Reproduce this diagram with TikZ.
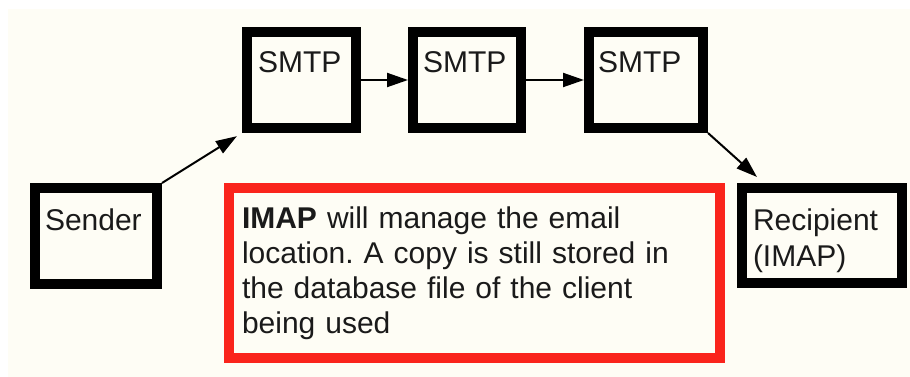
\documentclass[tikz,border=0pt]{standalone}
\usepackage{fontspec}
\setmainfont{Liberation Sans}
\usetikzlibrary{arrows.meta,calc}
\definecolor{cream}{RGB}{254,253,245}
\definecolor{boxred}{RGB}{250,36,28}
\definecolor{ink}{RGB}{26,26,26}
\frenchspacing
\begin{document}
\begin{tikzpicture}[x=1pt,y=-1pt,
  blackbox/.style={draw=black, line width=10pt, fill=cream, anchor=north west,
    inner ysep=0pt, align=left, text=ink,
    font=\fontsize{30}{36}\selectfont},
  redbox/.style={draw=boxred, line width=10pt, fill=cream, anchor=north west,
    inner ysep=0pt, align=left, text=ink,
    font=\fontsize{30}{35}\selectfont},
  conn/.style={draw=black, line width=2pt, -{Triangle[length=21pt,width=14pt]}}]
\useasboundingbox (0,0) rectangle (910,377);
\fill[white] (0,0) rectangle (910,377);
\fill[cream] (8,9) rectangle (910,377);
\node[blackbox, inner xsep=11pt, text width=87pt, text height=41pt, text depth=55pt] (smtp1) at (242,27) {SMTP};
\node[blackbox, inner xsep=10pt, text width=88pt, text height=41pt, text depth=55pt] (smtp2) at (408,27) {SMTP};
\node[blackbox, inner xsep=9pt, text width=96pt, text height=41pt, text depth=55pt] (smtp3) at (584,27) {SMTP};
\node[blackbox, inner xsep=10pt, text width=102pt, text height=42pt, text depth=54pt] (sender) at (30,183) {Sender};
\node[blackbox, inner xsep=11pt, text width=138pt, text height=42pt, text depth=53pt] (recipient) at (737,183) {Recipient\\(IMAP)};
\node[redbox, inner xsep=13pt, text width=465pt, text height=40pt, text depth=130pt] (note) at (224,183)
  {\textbf{IMAP} will manage the email\\location. A copy is still stored in\\the database file of the client\\being used};
\coordinate (rtip) at ($(recipient.north west)+(20,-6)$);
\draw[conn, shorten >=6pt] (sender.north east) -- (smtp1.south west);
\draw[conn] (smtp1.east) -- (smtp2.west);
\draw[conn] (smtp2.east) -- (smtp3.west);
\draw[conn] (smtp3.south east) -- (rtip);
\end{tikzpicture}
\end{document}
